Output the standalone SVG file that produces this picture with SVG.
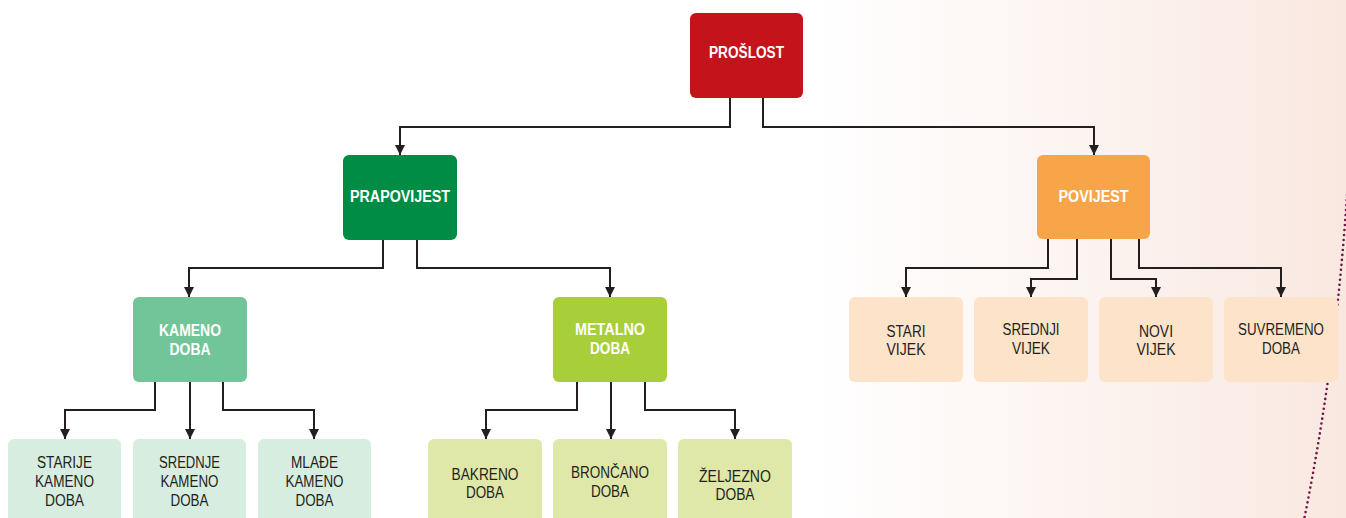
<svg xmlns="http://www.w3.org/2000/svg" width="1346" height="518" viewBox="0 0 1346 518">
<defs>
<linearGradient id="bg" x1="0" y1="0" x2="1346" y2="0" gradientUnits="userSpaceOnUse">
<stop offset="0.6" stop-color="#FFFFFF"/>
<stop offset="0.8" stop-color="#FCF4F1"/>
<stop offset="1" stop-color="#F9E8E0"/>
</linearGradient>
<marker id="arr" markerUnits="userSpaceOnUse" markerWidth="10" markerHeight="10" refX="10" refY="5" orient="auto">
<path d="M0,0 L10,5 L0,10 z" fill="#231F20"/>
</marker>
<style>
.t{font-family:"Liberation Sans",Arial,sans-serif;font-size:16px;text-anchor:middle}
.h{fill:#FFFFFF;font-weight:bold}
.l{fill:#231F20}
.c{fill:none;stroke:#231F20;stroke-width:2;marker-end:url(#arr)}
</style>
</defs>
<rect x="0" y="0" width="1346" height="518" fill="url(#bg)"/>
<path d="M1347,195 Q1336,362 1304,520" fill="none" stroke="#6E1547" stroke-width="2.6" stroke-linecap="round" stroke-dasharray="0 5"/>
<g id="connectors">
<path class="c" d="M730,98 V127 H400 V155"/>
<path class="c" d="M763,98 V127 H1094 V155"/>
<path class="c" d="M383,240 V268 H189 V297"/>
<path class="c" d="M417,240 V268 H610 V297"/>
<path class="c" d="M155,382 V410 H65 V439"/>
<path class="c" d="M190,382 V439"/>
<path class="c" d="M223,382 V410 H314 V439"/>
<path class="c" d="M577,382 V410 H486 V439"/>
<path class="c" d="M611,382 V439"/>
<path class="c" d="M645,382 V410 H735 V439"/>
<path class="c" d="M1048,239 V268 H906 V297"/>
<path class="c" d="M1077,239 V279 H1031 V297"/>
<path class="c" d="M1111,239 V279 H1156 V297"/>
<path class="c" d="M1139,239 V268 H1281 V297"/>
</g>
<g id="proslost"><rect x="690" y="13" width="113" height="85" rx="6" fill="#C4131B"/><text class="t h" x="746.5" y="58" textLength="75" lengthAdjust="spacingAndGlyphs">PROŠLOST</text></g>
<g id="prapovijest"><rect x="343" y="155" width="114" height="85" rx="6" fill="#008C44"/><text class="t h" x="400" y="202" textLength="100" lengthAdjust="spacingAndGlyphs">PRAPOVIJEST</text></g>
<g id="povijest"><rect x="1037" y="155" width="113" height="84" rx="6" fill="#F8A54A"/><text class="t h" x="1093.5" y="202" textLength="70" lengthAdjust="spacingAndGlyphs">POVIJEST</text></g>
<g id="kameno"><rect x="133" y="297" width="114" height="85" rx="6" fill="#72C598"/><text class="t h" x="190" y="336" textLength="62" lengthAdjust="spacingAndGlyphs">KAMENO</text><text class="t h" x="190" y="355" textLength="41" lengthAdjust="spacingAndGlyphs">DOBA</text></g>
<g id="metalno"><rect x="553" y="297" width="114" height="85" rx="6" fill="#A8CE3A"/><text class="t h" x="610" y="335" textLength="70" lengthAdjust="spacingAndGlyphs">METALNO</text><text class="t h" x="610" y="354" textLength="40" lengthAdjust="spacingAndGlyphs">DOBA</text></g>
<g id="starije"><rect x="8" y="439" width="113" height="95" rx="6" fill="#D7EDDF"/><text class="t l" x="64.5" y="468" textLength="55" lengthAdjust="spacingAndGlyphs">STARIJE</text><text class="t l" x="64.5" y="487" textLength="59" lengthAdjust="spacingAndGlyphs">KAMENO</text><text class="t l" x="64.5" y="506" textLength="39" lengthAdjust="spacingAndGlyphs">DOBA</text></g>
<g id="srednje"><rect x="133" y="439" width="113" height="95" rx="6" fill="#D7EDDF"/><text class="t l" x="189.5" y="468" textLength="61" lengthAdjust="spacingAndGlyphs">SREDNJE</text><text class="t l" x="189.5" y="487" textLength="58" lengthAdjust="spacingAndGlyphs">KAMENO</text><text class="t l" x="189.5" y="506" textLength="38" lengthAdjust="spacingAndGlyphs">DOBA</text></g>
<g id="mlade"><rect x="258" y="439" width="113" height="95" rx="6" fill="#D7EDDF"/><text class="t l" x="314.5" y="468" textLength="47" lengthAdjust="spacingAndGlyphs">MLAĐE</text><text class="t l" x="314.5" y="487" textLength="58" lengthAdjust="spacingAndGlyphs">KAMENO</text><text class="t l" x="314.5" y="506" textLength="38" lengthAdjust="spacingAndGlyphs">DOBA</text></g>
<g id="bakreno"><rect x="428" y="439" width="114" height="95" rx="6" fill="#DFE8A8"/><text class="t l" x="485" y="480" textLength="67" lengthAdjust="spacingAndGlyphs">BAKRENO</text><text class="t l" x="485" y="498" textLength="38" lengthAdjust="spacingAndGlyphs">DOBA</text></g>
<g id="broncano"><rect x="553" y="439" width="114" height="95" rx="6" fill="#DFE8A8"/><text class="t l" x="610" y="478" textLength="78" lengthAdjust="spacingAndGlyphs">BRONČANO</text><text class="t l" x="610" y="497" textLength="38" lengthAdjust="spacingAndGlyphs">DOBA</text></g>
<g id="zeljezno"><rect x="678" y="439" width="114" height="95" rx="6" fill="#DFE8A8"/><text class="t l" x="735" y="482" textLength="72" lengthAdjust="spacingAndGlyphs">ŽELJEZNO</text><text class="t l" x="735" y="500" textLength="39" lengthAdjust="spacingAndGlyphs">DOBA</text></g>
<g id="stari"><rect x="849" y="297" width="114" height="85" rx="6" fill="#FDE3CA"/><text class="t l" x="906" y="337" textLength="39" lengthAdjust="spacingAndGlyphs">STARI</text><text class="t l" x="906" y="355" textLength="39" lengthAdjust="spacingAndGlyphs">VIJEK</text></g>
<g id="srednji"><rect x="974" y="297" width="114" height="85" rx="6" fill="#FDE3CA"/><text class="t l" x="1031" y="335" textLength="57" lengthAdjust="spacingAndGlyphs">SREDNJI</text><text class="t l" x="1031" y="354" textLength="38" lengthAdjust="spacingAndGlyphs">VIJEK</text></g>
<g id="novi"><rect x="1099" y="297" width="114" height="85" rx="6" fill="#FDE3CA"/><text class="t l" x="1156" y="337" textLength="34" lengthAdjust="spacingAndGlyphs">NOVI</text><text class="t l" x="1156" y="355" textLength="39" lengthAdjust="spacingAndGlyphs">VIJEK</text></g>
<g id="suvremeno"><rect x="1224" y="297" width="114" height="85" rx="6" fill="#FDE3CA"/><text class="t l" x="1281" y="335" textLength="86" lengthAdjust="spacingAndGlyphs">SUVREMENO</text><text class="t l" x="1281" y="354" textLength="38" lengthAdjust="spacingAndGlyphs">DOBA</text></g>
</svg>
